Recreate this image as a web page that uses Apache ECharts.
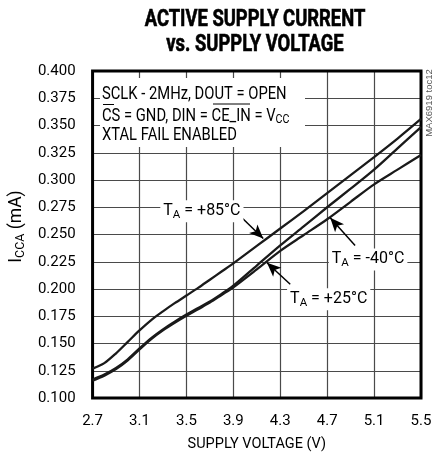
<!DOCTYPE html>
<html>
<head>
<meta charset="utf-8">
<script src="https://cdn.jsdelivr.net/npm/echarts@6/dist/echarts.min.js"></script>
<style>
  html, body { margin: 0; padding: 0; background: #fff; }
  #chart { width: 440px; height: 457px; }
</style>
</head>
<body>
<div id="chart"></div>
<script>
// supply voltage (V)
const voltage = [2.7, 2.8, 2.9, 3.0, 3.1, 3.2, 3.3, 3.4, 3.5, 3.6, 3.7, 3.8, 3.9, 4.1, 4.3, 4.5, 4.7, 4.9, 5.1, 5.3, 5.5];
// active supply current (mA) per temperature
const icc85 = [0.127, 0.132, 0.141, 0.1515, 0.162, 0.1715, 0.1795, 0.187, 0.194, 0.201, 0.2085, 0.216, 0.2235, 0.2395, 0.2555, 0.2715, 0.288, 0.3045, 0.321, 0.338, 0.356];
const icc25 = [0.117, 0.1215, 0.1275, 0.1355, 0.1455, 0.155, 0.163, 0.170, 0.1765, 0.1825, 0.1885, 0.1955, 0.203, 0.2215, 0.240, 0.2575, 0.275, 0.292, 0.3095, 0.329, 0.3485];
const iccM40 = [0.116, 0.1205, 0.1265, 0.1345, 0.1445, 0.154, 0.162, 0.169, 0.1755, 0.1815, 0.1875, 0.1945, 0.2015, 0.218, 0.235, 0.2495, 0.264, 0.280, 0.296, 0.3095, 0.323];

// labels (temperature, label centre, arrow start, arrow tip) in data units
const tempLabels = ['+85°C', '-40°C', '+25°C'];
const labelAt = [[3.632, 0.2713], [5.049, 0.2271], [4.713, 0.1906]];
const arrowFrom = [[3.96, 0.2667], [4.938, 0.2399], [4.385, 0.2043]];
const arrowTo = [[4.155, 0.2463], [4.726, 0.2653], [4.187, 0.2241]];

const FONT = 'Roboto';

function pairs(ys) {
  return voltage.map((v, i) => [v, ys[i]]);
}

let chart = echarts.init(document.getElementById('chart'), null, { renderer: 'canvas' });

let curveStyle = { color: '#1a1a1a', width: 2.3 };
let subRich = {
  m: { fontFamily: FONT, fontSize: 16, color: '#000', lineHeight: 20 },
  s: { fontFamily: FONT, fontSize: 11.5, color: '#000', lineHeight: 12, verticalAlign: 'bottom' }
};

let option = {
  animation: false,
  backgroundColor: '#fff',
  grid: {
    left: 92,
    right: 19,
    top: 71,
    bottom: 58,
    show: true,
    borderColor: '#000',
    borderWidth: 3,
    z: 3
  },
  xAxis: {
    type: 'value',
    min: 2.7,
    max: 5.5,
    interval: 0.4,
    name: 'SUPPLY VOLTAGE (V)',
    nameLocation: 'middle',
    nameGap: 39,
    nameTextStyle: { fontFamily: FONT, fontSize: 14.5, color: '#000' },
    axisLine: { show: false },
    axisTick: { show: false },
    axisLabel: {
      margin: 16,
      fontFamily: FONT,
      fontSize: 15,
      color: '#000',
      formatter: v => v.toFixed(1)
    },
    splitLine: { show: true, lineStyle: { color: '#4a4a4a', width: 1.2 } }
  },
  yAxis: {
    type: 'value',
    min: 0.1,
    max: 0.4,
    interval: 0.025,
    name: '{m|I}{s|CCA}{m| (mA)}',
    nameLocation: 'middle',
    nameGap: 59,
    nameRotate: 90,
    nameTextStyle: {
      padding: [0, 0, 0, 16],
      rich: {
        m: { fontFamily: FONT, fontSize: 17.5, color: '#000', lineHeight: 20 },
        s: { fontFamily: FONT, fontSize: 12.5, color: '#000', lineHeight: 12, verticalAlign: 'bottom' }
      }
    },
    axisLine: { show: false },
    axisTick: { show: false },
    axisLabel: {
      margin: 17,
      fontFamily: FONT,
      fontSize: 15,
      color: '#000',
      formatter: v => v.toFixed(3)
    },
    splitLine: { show: true, lineStyle: { color: '#4a4a4a', width: 1.2 } }
  },
  graphic: [
    // title
    {
      type: 'text', x: 255, y: 20, scaleX: 0.8, z: 10,
      style: { text: 'ACTIVE SUPPLY CURRENT', fontFamily: FONT, fontWeight: 'bold', fontSize: 23, fill: '#000', stroke: '#000', lineWidth: 0.6, align: 'center', verticalAlign: 'middle' }
    },
    {
      type: 'text', x: 255, y: 45, scaleX: 0.8, z: 10,
      style: { text: 'vs. SUPPLY VOLTAGE', fontFamily: FONT, fontWeight: 'bold', fontSize: 23, fill: '#000', stroke: '#000', lineWidth: 0.6, align: 'center', verticalAlign: 'middle' }
    },
    // condition box
    { type: 'rect', shape: { x: 100, y: 78, width: 205, height: 69 }, style: { fill: '#fff' }, z: 1 },
    {
      type: 'text', x: 102, y: 94, scaleX: 0.82, z: 10,
      style: { text: 'SCLK - 2MHz, DOUT = OPEN', fontFamily: FONT, fontSize: 18, fill: '#000', verticalAlign: 'middle' }
    },
    {
      type: 'text', x: 102, y: 116, scaleX: 0.82, z: 10,
      style: {
        text: '{n|CS = GND, DIN = CE_IN = V}{s|CC}',
        verticalAlign: 'middle',
        rich: {
          n: { fontFamily: FONT, fontSize: 18, fill: '#000', lineHeight: 20 },
          s: { fontFamily: FONT, fontSize: 13, fill: '#000', lineHeight: 12, verticalAlign: 'bottom' }
        }
      }
    },
    {
      type: 'text', x: 102, y: 135, scaleX: 0.82, z: 10,
      style: { text: 'XTAL FAIL ENABLED', fontFamily: FONT, fontSize: 18, fill: '#000', verticalAlign: 'middle' }
    },
    // overlines for CS and CE_IN
    { type: 'line', shape: { x1: 103, y1: 104.5, x2: 114, y2: 104.5 }, style: { stroke: '#000', lineWidth: 1 }, z: 10 },
    { type: 'line', shape: { x1: 213, y1: 104, x2: 250, y2: 104 }, style: { stroke: '#000', lineWidth: 1 }, z: 10 },
    // part number tag
    {
      type: 'text', x: 429, y: 103, rotation: Math.PI / 2, z: 10,
      style: { text: 'MAX6919 toc12', fontFamily: 'Liberation Sans', fontSize: 9.5, fill: '#555', align: 'center', verticalAlign: 'middle' }
    }
  ],
  series: [
    {
      name: '+85°C',
      type: 'line',
      showSymbol: false,
      smooth: 0.3,
      lineStyle: curveStyle,
      data: pairs(icc85),
      markLine: {
        silent: true,
        symbol: ['none', 'arrow'],
        symbolSize: [9, 14],
        label: { show: false },
        lineStyle: { color: '#000', width: 1.5, type: 'solid' },
        data: arrowFrom.map((p, i) => [{ coord: p }, { coord: arrowTo[i] }])
      },
      markPoint: {
        silent: true,
        symbol: 'rect',
        symbolSize: 0,
        data: labelAt.map((p, i) => ({
          coord: p,
          label: {
            show: true,
            position: 'inside',
            formatter: '{m|T}{s|A}{m| = ' + tempLabels[i] + '}',
            backgroundColor: '#fff',
            padding: [1, 3, 1, 3],
            rich: subRich
          }
        }))
      }
    },
    {
      name: '+25°C',
      type: 'line',
      showSymbol: false,
      smooth: 0.3,
      lineStyle: curveStyle,
      data: pairs(icc25)
    },
    {
      name: '-40°C',
      type: 'line',
      showSymbol: false,
      smooth: 0.3,
      lineStyle: curveStyle,
      data: pairs(iccM40)
    }
  ]
};

chart.setOption(option);
</script>
</body>
</html>
